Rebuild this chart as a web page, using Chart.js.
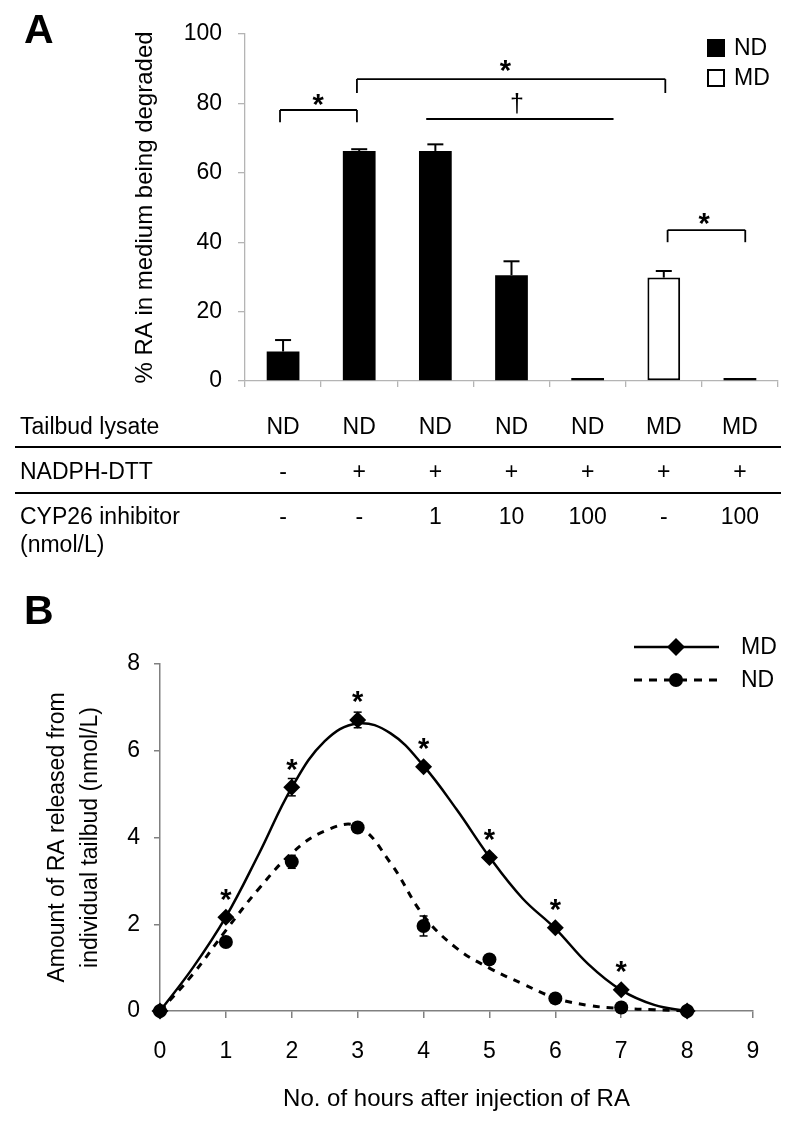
<!DOCTYPE html>
<html><head><meta charset="utf-8">
<script src="https://cdn.jsdelivr.net/npm/chart.js@4.4.1/dist/chart.umd.min.js"></script>
<style>
html,body{margin:0;padding:0;background:#fff;width:800px;height:1124px;overflow:hidden}
canvas{position:absolute;left:0}
#ca{top:0}
#cb{top:565px}
</style></head><body>
<canvas id="ca" width="800" height="565"></canvas>
<canvas id="cb" width="800" height="559"></canvas>
<script>
// ---------- Panel A data ----------
const lysate    = ['ND','ND','ND','ND','ND','MD','MD'];
const nadph     = ['-','+','+','+','+','+','+'];
const inhibitor = ['-','-','1','10','100','-','100'];
const ndValues  = [8.5, 66.3, 66.3, 30.5, 0.9, null, 0.9];
const mdValues  = [null, null, null, null, null, 29.8, null];
const barErrors = [3.3, 0.5, 1.9, 4.0, 0, 1.9, 0];
const yTicksA   = [0, 20, 40, 60, 80, 100];
const rowLabels = ['Tailbud lysate', 'NADPH-DTT', 'CYP26 inhibitor', '(nmol/L)'];
// significance marks (category index / value units)
const sigFrom   = [-0.04, 0.97, 1.88, 5.05];
const sigTo     = [0.97, 5.02, 4.34, 6.07];
const sigLevel  = [78.1, 87.0, 75.5, 43.5];
const sigDrop   = [3.5, 4.0, 0, 3.5];
const sigText   = ['*', '*', '\u2020', '*'];
const sigTextAt = [0.46, 2.92, 3.07, 5.53];
const sigTextY  = [81.8, 91.5, 79.5, 47.3];

// ---------- Panel B data ----------
const hours   = [0, 1, 2, 3, 4, 5, 6, 7, 8];
const mdMean  = [0, 2.16, 5.16, 6.71, 5.63, 3.54, 1.92, 0.49, 0];
const mdErr   = [0, 0.06, 0.2, 0.18, 0.06, 0.08, 0.06, 0.05, 0];
const ndMean  = [0, 1.59, 3.44, 4.23, 1.96, 1.19, 0.29, 0.08, 0];
const ndErr   = [0, 0.06, 0.15, 0.1, 0.23, 0.05, 0.03, 0.02, 0];
const fitHours = [0, 0.5, 1, 1.5, 2, 2.5, 3, 3.5, 4, 4.5, 5, 5.5, 6, 6.5, 7, 7.5, 8];
const mdFit    = [0, 1.0, 2.17, 3.62, 5.15, 6.22, 6.63, 6.4, 5.65, 4.65, 3.55, 2.6, 1.9, 1.08, 0.48, 0.14, 0];
const ndFit    = [0, 0.85, 1.86, 2.82, 3.64, 4.15, 4.26, 3.41, 2.2, 1.45, 0.99, 0.63, 0.3, 0.13, 0.06, 0.03, 0];
const starHours = [1, 2, 3, 4, 5, 6, 7];
const xTicksB = [0,1,2,3,4,5,6,7,8,9];
const yTicksB = [0,2,4,6,8];

Chart.defaults.font.family = "'Liberation Sans', Arial, sans-serif";
Chart.defaults.color = '#000';
Chart.defaults.animation = false;

const FONT = "'Liberation Sans', Arial, sans-serif";
function seg(ctx, x1, y1, x2, y2){ ctx.beginPath(); ctx.moveTo(x1,y1); ctx.lineTo(x2,y2); ctx.stroke(); }
function star(ctx, s, cx, cy, size, bold){
  ctx.font = (bold ? 'bold ' : '') + size + 'px ' + FONT;
  ctx.textAlign = 'center'; ctx.textBaseline = 'alphabetic';
  const off = s === '*' ? 0.57 : 0.28;
  ctx.fillText(s, cx, cy + off * size);
}

const panelA = {
  id: 'panelA',
  afterDatasetsDraw(chart){
    const {ctx, scales:{x, y}} = chart;
    ctx.save();
    ctx.fillStyle = '#000'; ctx.strokeStyle = '#000';
    // error bars
    ctx.lineWidth = 2;
    lysate.forEach((g, i) => {
      const v = ndValues[i] !== null ? ndValues[i] : mdValues[i];
      const e = barErrors[i];
      if (!e) return;
      const px = x.getPixelForValue(i);
      const y0 = y.getPixelForValue(v), y1 = y.getPixelForValue(v + e);
      seg(ctx, px, y0, px, y1);
      seg(ctx, px - 8, y1, px + 8, y1);
    });
    // significance brackets
    ctx.lineWidth = 1.8;
    sigFrom.forEach((f, k) => {
      const x1 = x.getPixelForValue(f), x2 = x.getPixelForValue(sigTo[k]);
      const yl = y.getPixelForValue(sigLevel[k]);
      seg(ctx, x1, yl, x2, yl);
      if (sigDrop[k]) {
        const yd = y.getPixelForValue(sigLevel[k] - sigDrop[k]);
        seg(ctx, x1, yl, x1, yd); seg(ctx, x2, yl, x2, yd);
      }
      const tx = x.getPixelForValue(sigTextAt[k]), ty = y.getPixelForValue(sigTextY[k]);
      if (sigText[k] === '*') star(ctx, '*', tx, ty, 29, true);
      else star(ctx, sigText[k], tx, ty, 25, false);
    });
    // legend
    ctx.fillRect(707, 39, 18, 18);
    ctx.lineWidth = 2; ctx.fillStyle = '#fff';
    ctx.fillRect(708, 70, 16, 16); ctx.strokeRect(708, 70, 16, 16);
    ctx.fillStyle = '#000';
    ctx.font = '23px ' + FONT; ctx.textAlign = 'left'; ctx.textBaseline = 'middle';
    ctx.fillText('ND', 734, 49);
    ctx.fillText('MD', 734, 79);
    // panel label
    ctx.font = 'bold 41px ' + FONT; ctx.textBaseline = 'alphabetic';
    ctx.fillText('A', 24, 43);
    // table
    const baselines = [434, 479, 524, 552];
    ctx.font = '23px ' + FONT;
    rowLabels.forEach((t, r) => ctx.fillText(t, 20, baselines[r]));
    ctx.textAlign = 'center';
    [lysate, nadph, inhibitor].forEach((row, r) => {
      row.forEach((t, i) => ctx.fillText(t, x.getPixelForValue(i), baselines[r]));
    });
    ctx.lineWidth = 2.2;
    seg(ctx, 15, 447, 781, 447);
    seg(ctx, 15, 493, 781, 493);
    ctx.restore();
  }
};

new Chart(document.getElementById('ca'), {
  type: 'bar',
  data: {
    labels: lysate,
    datasets: [
      { data: ndValues, backgroundColor: '#000', borderWidth: 0, grouped: false,
        categoryPercentage: 1, barPercentage: 0.43 },
      { data: mdValues, backgroundColor: '#fff', borderColor: '#000', borderWidth: 2,
        borderSkipped: false, grouped: false, categoryPercentage: 1, barPercentage: 0.43 }
    ]
  },
  options: {
    responsive: false, devicePixelRatio: 1,
    layout: { padding: { left: 127, top: 34, right: 22, bottom: 0 } },
    plugins: { legend: { display: false }, tooltip: { enabled: false } },
    scales: {
      x: {
        ticks: { display: false },
        grid: { offset: true, drawOnChartArea: false, color: '#b4b4b4', tickLength: 6, lineWidth: 1.3 },
        border: { color: '#b4b4b4', width: 1.3 },
        afterFit(s){ s.height = 565 - 381; }
      },
      y: {
        min: 0, max: 100,
        afterBuildTicks(s){ s.ticks = yTicksA.map(v => ({ value: v })); },
        ticks: { font: { size: 23 }, padding: 16 },
        grid: { drawOnChartArea: false, color: '#b4b4b4', tickLength: 7, lineWidth: 1.3 },
        border: { color: '#b4b4b4', width: 1.3 },
        title: { display: true, text: '% RA in medium being degraded', font: { size: 24 } },
        afterFit(s){ s.width = 245 - 127; }
      }
    }
  },
  plugins: [panelA]
});

// ---------- Panel B ----------
const panelB = {
  id: 'panelB',
  afterDatasetsDraw(chart){
    const {ctx, scales:{x, y}} = chart;
    ctx.save();
    ctx.strokeStyle = '#000'; ctx.fillStyle = '#000'; ctx.lineWidth = 1.5;
    const drawErr = (means, errs) => hours.forEach((h, i) => {
      if (!errs[i]) return;
      const px = x.getPixelForValue(h);
      const y1 = y.getPixelForValue(means[i] + errs[i]), y2 = y.getPixelForValue(means[i] - errs[i]);
      seg(ctx, px, y1, px, y2);
      seg(ctx, px - 4, y1, px + 4, y1); seg(ctx, px - 4, y2, px + 4, y2);
    });
    drawErr(mdMean, mdErr); drawErr(ndMean, ndErr);
    // stars
    starHours.forEach(h => {
      const i = hours.indexOf(h);
      star(ctx, '*', x.getPixelForValue(h), y.getPixelForValue(mdMean[i]) - 25, 29, true);
    });
    // legend
    ctx.lineWidth = 2.5; ctx.setLineDash([]);
    seg(ctx, 634, 82, 719, 82);
    ctx.beginPath(); ctx.moveTo(676, 73); ctx.lineTo(685, 82); ctx.lineTo(676, 91); ctx.lineTo(667, 82); ctx.closePath(); ctx.fill();
    ctx.lineWidth = 3; ctx.setLineDash([8, 7]);
    seg(ctx, 634, 115, 724, 115);
    ctx.setLineDash([]);
    ctx.beginPath(); ctx.arc(676, 115, 7, 0, Math.PI * 2); ctx.fill();
    ctx.font = '23px ' + FONT; ctx.textAlign = 'left'; ctx.textBaseline = 'middle';
    ctx.fillText('MD', 741, 83);
    ctx.fillText('ND', 741, 116);
    // panel label
    ctx.font = 'bold 41px ' + FONT; ctx.textBaseline = 'alphabetic';
    ctx.fillText('B', 24, 59);
    ctx.restore();
  }
};

new Chart(document.getElementById('cb'), {
  type: 'line',
  data: {
    datasets: [
      { data: hours.map((h, i) => ({ x: h, y: mdMean[i] })), showLine: false, clip: false,
        pointStyle: 'rectRot', pointRadius: 8.5, backgroundColor: '#000', borderColor: '#000', borderWidth: 0 },
      { data: hours.map((h, i) => ({ x: h, y: ndMean[i] })), showLine: false, clip: false,
        pointStyle: 'circle', pointRadius: 7, backgroundColor: '#000', borderColor: '#000', borderWidth: 0 },
      { data: fitHours.map((h, i) => ({ x: h, y: mdFit[i] })), borderColor: '#000', borderWidth: 2.5,
        tension: 0.4, pointRadius: 0, fill: false, clip: false },
      { data: fitHours.map((h, i) => ({ x: h, y: ndFit[i] })), borderColor: '#000', borderWidth: 3,
        borderDash: [7, 7], tension: 0.4, pointRadius: 0, fill: false, clip: false }
    ]
  },
  options: {
    responsive: false, devicePixelRatio: 1,
    layout: { padding: { left: 38, top: 99, right: 47, bottom: 6 } },
    plugins: { legend: { display: false }, tooltip: { enabled: false } },
    scales: {
      x: {
        type: 'linear', min: 0, max: 9,
        afterBuildTicks(s){ s.ticks = xTicksB.map(v => ({ value: v })); },
        ticks: { font: { size: 23 }, padding: 20 },
        grid: { drawOnChartArea: false, color: '#808080', tickLength: 7, lineWidth: 1.5 },
        border: { color: '#808080', width: 1.5 },
        title: { display: true, text: 'No. of hours after injection of RA', font: { size: 24 } },
        afterFit(s){ s.height = 559 - 6 - 446; }
      },
      y: {
        min: 0, max: 8,
        afterBuildTicks(s){ s.ticks = yTicksB.map(v => ({ value: v })); },
        ticks: { font: { size: 23 }, padding: 14 },
        grid: { drawOnChartArea: false, color: '#808080', tickLength: 6, lineWidth: 1.5 },
        border: { color: '#808080', width: 1.5 },
        title: { display: true, text: ['Amount of RA released from', 'individual tailbud (nmol/L)'],
                 font: { size: 23, lineHeight: 1.4 } },
        afterFit(s){ s.width = 160 - 38; }
      }
    }
  },
  plugins: [panelB]
});
</script>
</body></html>
